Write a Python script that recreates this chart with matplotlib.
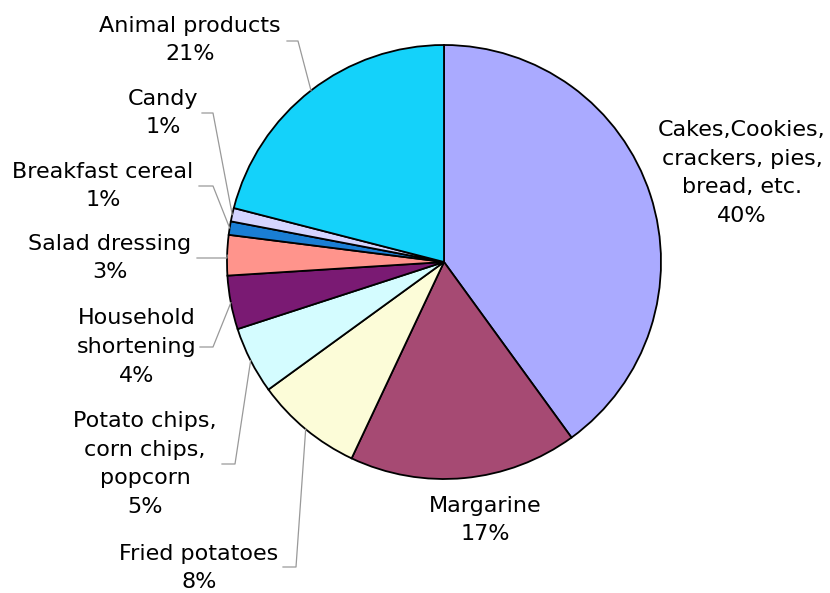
import numpy as np
from matplotlib import pyplot as plt

# data
labels = ["Cakes,Cookies,\ncrackers, pies,\nbread, etc.", "Margarine", "Fried potatoes",
          "Potato chips,\ncorn chips,\npopcorn", "Household\nshortening", "Salad dressing",
          "Breakfast cereal", "Candy", "Animal products"]
values = [40, 17, 8, 5, 4, 3, 1, 1, 21]
colors = ["#AAAAFF", "#A64A73", "#FCFCD8", "#D4FCFF", "#7A1A73", "#FF948C",
          "#1A7ED4", "#D4D4FF", "#14D2FA"]

# layout (pixel coords, y measured from top)
W, H = 830, 593
cx, cy, r = 444, 262, 217
# text centre of the label block, and leader elbow (None = no leader)
text_pos = [(742, 173), (485, 520), (199, 568), (145, 464), (137, 347),
            (110, 258), (103, 186), (163, 113), (190, 40)]
elbow = [None, None, (283, 296, 567), (222, 235, 464), (200, 213, 347),
         (197, 227, 258), (199, 213, 186), (202, 213, 113), (287, 298, 41)]

fig = plt.figure(figsize=(W / 100, H / 100), dpi=100)
ax = fig.add_axes([0, 0, 1, 1])

wedges, _ = ax.pie(values, colors=colors, startangle=90, counterclock=False,
                   center=(cx, H - cy), radius=r,
                   wedgeprops=dict(edgecolor="black", linewidth=1.3))

for i, w in enumerate(wedges):
    txt = f"{labels[i]}\n{values[i]}%"
    tx, ty = text_pos[i]
    ax.text(tx, H - ty, txt, ha="center", va="center", fontsize=16,
            family="DejaVu Sans", linespacing=1.55, color="black")
    if elbow[i] is not None:
        mid = np.deg2rad((w.theta1 + w.theta2) / 2)
        ex = cx + r * np.cos(mid)
        ey = (H - cy) + r * np.sin(mid)
        x0, x1, yy = elbow[i]
        ax.plot([x0, x1, ex], [H - yy, H - yy, ey], color="#999999", lw=0.9)

ax.set_xlim(0, W)
ax.set_ylim(0, H)
ax.set_aspect("equal")
ax.axis("off")

fig.savefig("out.png", dpi=100)
